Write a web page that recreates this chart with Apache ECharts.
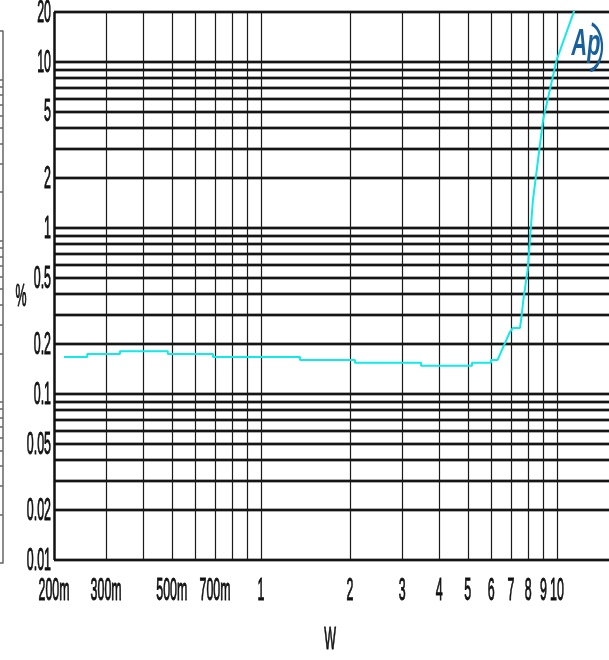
<!DOCTYPE html>
<html><head><meta charset="utf-8">
<script src="https://cdn.jsdelivr.net/npm/echarts@6/dist/echarts.min.js"></script>
<style>html,body{margin:0;padding:0;background:#fff;overflow:hidden}#c{width:609px;height:660px}</style>
</head><body><div id="c"></div>
<script>
// ---- data ----
const powerW = [0.216, 0.259, 0.259, 0.334, 0.334, 0.485, 0.485, 0.689, 0.689, 1.356, 1.356, 2.079, 2.079, 3.476, 3.476, 5.168, 5.168, 5.989, 5.989, 6.298, 6.944, 7.108, 7.505, 7.606, 7.70, 7.965, 8.30, 8.98, 9.98, 11.36, 11.58];
const thdPct = [0.167, 0.167, 0.174, 0.174, 0.181, 0.181, 0.174, 0.174, 0.167, 0.167, 0.160, 0.160, 0.154, 0.154, 0.148, 0.148, 0.154, 0.154, 0.160, 0.160, 0.237, 0.250, 0.250, 0.299, 0.368, 0.558, 1.474, 4.47, 10.28, 19.64, 22.0];

const xGridValues = [0.3, 0.4, 0.5, 0.6, 0.7, 0.8, 0.9, 1, 2, 3, 4, 5, 6, 7, 8, 9, 10];
const yGridValues = [0.01, 0.02, 0.03, 0.04, 0.05, 0.06, 0.07, 0.08, 0.09, 0.1, 0.2, 0.3, 0.4, 0.5, 0.6, 0.7, 0.8, 0.9, 1, 2, 3, 4, 5, 6, 7, 8, 9, 10, 20];
const xTickValues = [0.2, 0.3, 0.5, 0.7, 1, 2, 3, 4, 5, 6, 7, 8, 9, 10];
const xTickLabels = ['200m', '300m', '500m', '700m', '1', '2', '3', '4', '5', '6', '7', '8', '9', '10'];
const yTickValues = [20, 10, 5, 2, 1, 0.5, 0.2, 0.1, 0.05, 0.02, 0.01];
const yTickLabels = ['20', '10', '5', '2', '1', '0.5', '0.2', '0.1', '0.05', '0.02', '0.01'];
// cropped neighbouring axis at the far left edge
const edgeTickValues = [1,2,3,4,5,6,7,8,9,10,20,30,40,50,60,70,80,90,100,200,300,400,500,600,700,800,900,1000,2000];

const chart = echarts.init(document.getElementById('c'), null, {renderer: 'canvas'});

function ml(data, lineStyle) {
  return {
    silent: true, symbol: ['none', 'none'], animation: false,
    label: {show: false}, emphasis: {disabled: true},
    lineStyle: Object.assign({type: 'solid'}, lineStyle), data: data
  };
}
const dummy = {type: 'line', data: [[1, 1]], symbol: 'none', lineStyle: {opacity: 0}, silent: true};

const option = {
  animation: false,
  backgroundColor: '#fff',
  grid: [
    {left: 54, right: -37, top: 12, bottom: 100, outerBoundsMode: 'none', containLabel: false},
    {left: -2, width: 5, top: 31, bottom: 97, outerBoundsMode: 'none', containLabel: false}
  ],
  xAxis: [
    {type: 'log', gridIndex: 0, min: 0.2, max: 20, axisLine: {show: false}, axisTick: {show: false}, axisLabel: {show: false}, splitLine: {show: false}},
    {type: 'value', gridIndex: 1, min: 0, max: 1, show: false}
  ],
  yAxis: [
    {type: 'log', gridIndex: 0, min: 0.01, max: 20, axisLine: {show: false}, axisTick: {show: false}, axisLabel: {show: false}, splitLine: {show: false}},
    {type: 'log', gridIndex: 1, min: 1, max: 2000, position: 'right', axisLine: {show: true, onZero: false, lineStyle: {color: '#666', width: 1.5}}, axisTick: {show: false}, axisLabel: {show: false}, splitLine: {show: false}}
  ],
  series: [
    Object.assign({}, dummy, {name: 'hHalo', z: 1, markLine: ml(yGridValues.map(v => ({yAxis: v})), {color: '#ababab', width: 4})}),
    Object.assign({}, dummy, {name: 'hLine', z: 2, markLine: ml(yGridValues.map(v => ({yAxis: v})), {color: '#151515', width: 2})}),
    Object.assign({}, dummy, {name: 'vLine', z: 3, markLine: ml(xGridValues.map(v => ({xAxis: v})), {color: '#1a1a1a', width: 1.2})}),
    Object.assign({}, dummy, {name: 'leftAxis', z: 3, markLine: ml([{xAxis: 0.2}], {color: '#111', width: 2.5})}),
    Object.assign({}, dummy, {name: 'edge', xAxisIndex: 1, yAxisIndex: 1, z: 3,
      markLine: ml(edgeTickValues.map(v => [{coord: [0, v]}, {coord: [1, v]}]), {color: '#666', width: 1.5})}),
    {
      name: 'THD+N', type: 'line', z: 10, symbol: 'none', clip: true,
      data: powerW.map((x, i) => [x, thdPct[i]]),
      lineStyle: {color: '#12eaea', width: 2}, itemStyle: {color: '#12eaea'}
    }
  ]
};
chart.setOption(option);

// tick labels placed through the axis scales (condensed like the original)
const FONT = '31px "Liberation Sans", Arial, sans-serif';
const SX = 0.4;
const TXT = {fill: '#111', stroke: '#111', lineWidth: 1, x: 0, y: 0, font: FONT, verticalAlign: 'middle', textVerticalAlign: 'middle'};
const g = [];
const yBottom = chart.convertToPixel({yAxisIndex: 0}, 0.01);
const xLeft = chart.convertToPixel({xAxisIndex: 0}, 0.2);
xTickValues.forEach((v, i) => {
  const px = chart.convertToPixel({xAxisIndex: 0}, v);
  g.push({type: 'text', x: px, y: yBottom + 31, scaleX: SX, silent: true,
    style: Object.assign({}, TXT, {text: xTickLabels[i], align: 'center', textAlign: 'center'})});
});
yTickValues.forEach((v, i) => {
  const py = chart.convertToPixel({yAxisIndex: 0}, v);
  g.push({type: 'text', x: xLeft - 3, y: py + 1, scaleX: SX, silent: true,
    style: Object.assign({}, TXT, {text: yTickLabels[i], align: 'right', textAlign: 'right'})});
});
// axis names
g.push({type: 'text', x: 21, y: 297, scaleX: SX, silent: true,
  style: Object.assign({}, TXT, {text: '%', align: 'center', textAlign: 'center'})});
g.push({type: 'text', x: 330, y: 640, scaleX: SX, silent: true,
  style: Object.assign({}, TXT, {text: 'W', align: 'center', textAlign: 'center'})});
// Ap logo
g.push({type: 'text', x: 586, y: 45, scaleX: 0.6, silent: true, z: 20,
  style: {text: 'Ap', x: 0, y: 0, font: 'italic bold 36px "Liberation Sans", Arial, sans-serif', fill: '#17609c', align: 'center', verticalAlign: 'middle', textAlign: 'center', textVerticalAlign: 'middle'}});
g.push({type: 'arc', x: 588, y: 47, scaleY: 1.7, silent: true, z: 20,
  shape: {cx: 0, cy: 0, r: 14, startAngle: -1.3, endAngle: 1.4},
  style: {stroke: '#17609c', lineWidth: 2.2, fill: null}});
chart.setOption({graphic: g});
</script>
</body></html>
